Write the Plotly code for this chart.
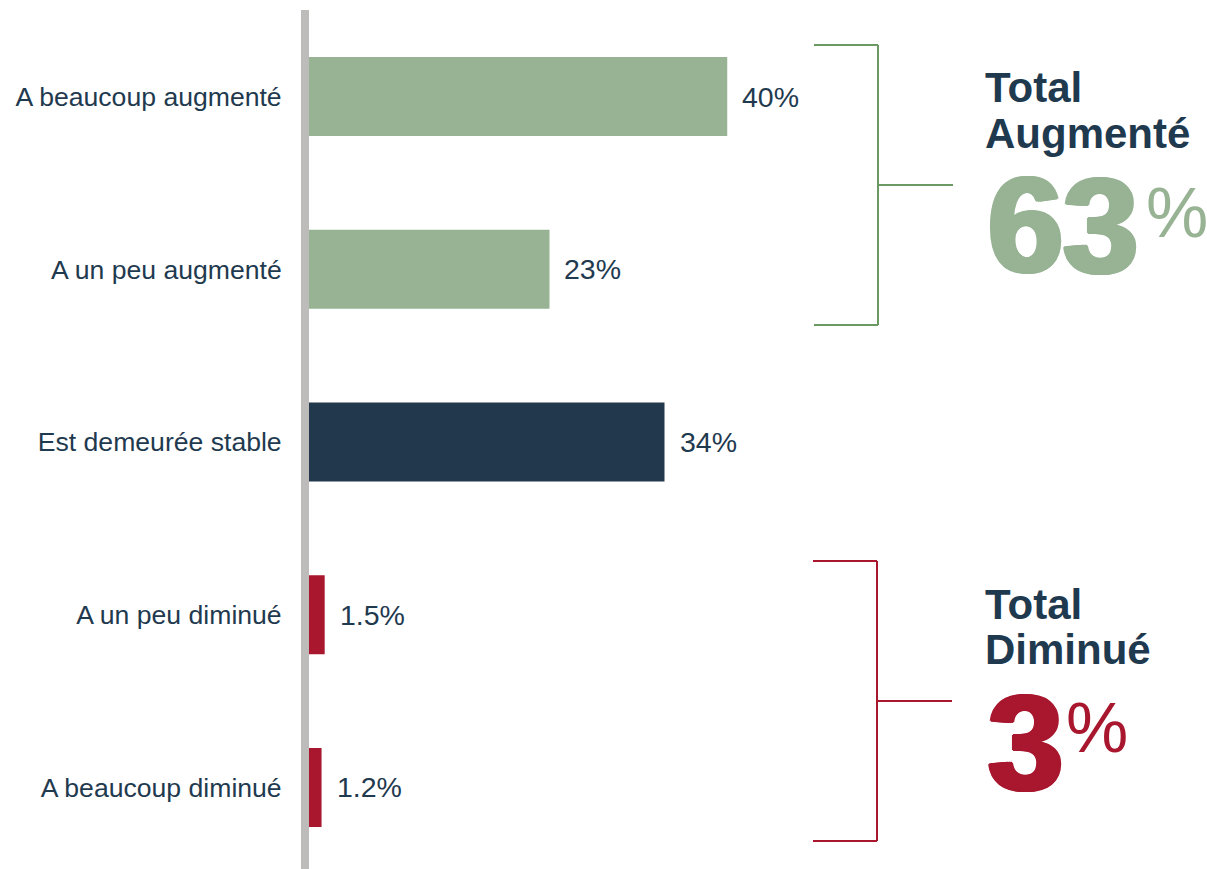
import plotly.graph_objects as go

categories = ["A beaucoup augmenté", "A un peu augmenté", "Est demeurée stable",
              "A un peu diminué", "A beaucoup diminué"]
values = [40, 23, 34, 1.5, 1.2]
value_labels = ["40%", "23%", "34%", "1.5%", "1.2%"]
bar_colors = ["#97b394", "#97b394", "#22384c", "#a8172e", "#a8172e"]

total_up_value = "63"
total_down_value = "3"
total_up_title = ["Total", "Augmenté"]
total_down_title = ["Total", "Diminué"]

W, H = 1207, 869
L, T = 309, 10
PW, PH = W - L, H - T
TEXT = "#1f3a4f"
GREEN_LINE = "#6a9a62"
RED = "#a8172e"
GREEN = "#97b394"

def px(x):
    return (x - L) / PW

def py(y):
    return 1 - (y - T) / PH

fig = go.Figure()
fig.add_trace(go.Bar(
    y=categories, x=values, orientation="h",
    marker=dict(color=bar_colors, line=dict(width=0)),
    width=0.457, hoverinfo="skip",
))

scale = 10.456
fig.update_layout(
    width=W, height=H,
    margin=dict(l=L, r=0, t=T, b=0),
    paper_bgcolor="white", plot_bgcolor="white",
    showlegend=False,
    font=dict(family="Liberation Sans, Arial, sans-serif", color=TEXT),
    xaxis=dict(range=[0, PW / scale], visible=False, fixedrange=True),
    yaxis=dict(
        type="category", categoryorder="array", categoryarray=categories,
        range=[4.472, -0.501], showgrid=False, zeroline=False,
        showline=True, linewidth=8, linecolor="#bdbcbb",
        ticks="", tickfont=dict(size=26.6, color=TEXT),
        ticklabelstandoff=14, automargin=False, fixedrange=True,
    ),
)

for c, v, t in zip(categories, values, value_labels):
    fig.add_annotation(x=v, y=c, xref="x", yref="y", text=t, showarrow=False,
                       xanchor="left", yanchor="middle", xshift=13,
                       font=dict(size=28.5, color=TEXT))

def bracket(x0, x1, y0, y1, ym, xm, color):
    for (a, b, c, d) in [(x0, y0, x1, y0), (x0, y1, x1, y1), (x1, y0, x1, y1), (x1, ym, xm, ym)]:
        fig.add_shape(type="line", xref="paper", yref="paper",
                      x0=px(a), y0=py(b), x1=px(c), y1=py(d),
                      line=dict(color=color, width=2))

bracket(814, 878, 45, 325, 185, 953, GREEN_LINE)
bracket(813, 877, 561, 841, 701, 952, RED)

def title(lines, y1, y2):
    for text, y in zip(lines, (y1, y2)):
        fig.add_annotation(x=px(983), y=py(y), xref="paper", yref="paper", text=text,
                           showarrow=False, xanchor="left", yanchor="middle", align="left",
                           font=dict(size=42, color=TEXT, weight="bold"))

title(total_up_title, 88, 133)
title(total_down_title, 604, 649)

def big(num, color, xleft, ycenter, pct_x, pct_y):
    offs = [(3, 0), (-3, 0), (2, 1), (-2, 1), (2, -1), (-2, -1), (0, 1), (0, -1), (1, 0), (-1, 0)]
    thick = ", ".join(f"{dx}px {dy}px 0 {color}" for dx, dy in offs)
    fig.add_annotation(x=px(xleft), y=py(ycenter), xref="paper", yref="paper", text=num,
                       showarrow=False, xanchor="left", yanchor="middle",
                       font=dict(size=135, color=color, weight="bold", shadow=thick))
    fig.add_annotation(x=px(pct_x), y=py(pct_y), xref="paper", yref="paper", text="%",
                       showarrow=False, xanchor="left", yanchor="middle",
                       font=dict(size=70, color=color))

big(total_up_value, GREEN, 986, 226, 1144, 213)
big(total_down_value, RED, 986, 742, 1064, 728)

fig.write_html("out.html", config={"displayModeBar": False},
               post_script="document.body.style.margin='0';")
